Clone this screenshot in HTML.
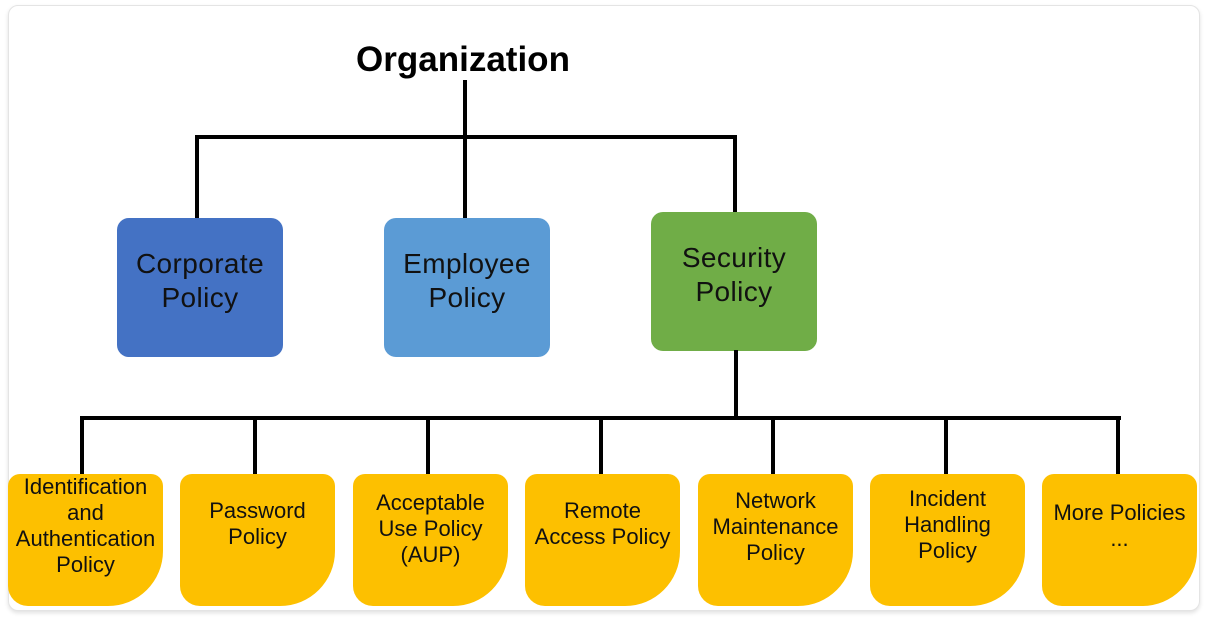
<!DOCTYPE html>
<html><head><style>
body{margin:0;width:1209px;height:617px;background:#fff;position:relative;font-family:"Liberation Sans",sans-serif;overflow:hidden}
.card{position:absolute;left:8px;top:5px;width:1190px;height:604px;border:1px solid #e4e4e4;border-radius:10px;box-shadow:0 2px 4px rgba(0,0,0,.12);background:#fff}
.l{position:absolute;background:#000}
.b{position:absolute;width:166px;height:139px;border-radius:12px;display:flex;align-items:center;justify-content:center;text-align:center;font-size:28px;letter-spacing:0.4px;line-height:34px;color:#111;padding-bottom:14px;box-sizing:border-box}
.y{position:absolute;top:474px;width:155px;height:132px;background:#fdc000;border-radius:12px 12px 55px 20px;display:flex;justify-content:center;text-align:center;font-size:22px;line-height:26px;color:#111;box-sizing:border-box;white-space:nowrap}
</style></head><body>
<div class="card"></div>
<div style="position:absolute;left:280px;width:366px;top:40px;text-align:center;font-weight:bold;font-size:35px">Organization</div>
<div class="l" style="left:463px;top:80px;width:4px;height:59px"></div>
<div class="l" style="left:195px;top:135px;width:542px;height:4px"></div>
<div class="l" style="left:195px;top:135px;width:4px;height:84px"></div>
<div class="l" style="left:463px;top:135px;width:4px;height:84px"></div>
<div class="l" style="left:733px;top:135px;width:4px;height:78px"></div>
<div class="b" style="left:117px;top:218px;background:#4472c4">Corporate<br>Policy</div>
<div class="b" style="left:384px;top:218px;background:#5b9bd5">Employee<br>Policy</div>
<div class="b" style="left:651px;top:212px;background:#70ad47">Security<br>Policy</div>
<div class="l" style="left:734px;top:350px;width:4px;height:70px"></div>
<div class="l" style="left:80px;top:416px;width:1041px;height:4px"></div>
<div class="l" style="left:80px;top:416px;width:4px;height:59px"></div>
<div class="l" style="left:253px;top:416px;width:4px;height:59px"></div>
<div class="l" style="left:426px;top:416px;width:4px;height:59px"></div>
<div class="l" style="left:599px;top:416px;width:4px;height:59px"></div>
<div class="l" style="left:771px;top:416px;width:4px;height:59px"></div>
<div class="l" style="left:944px;top:416px;width:4px;height:59px"></div>
<div class="l" style="left:1116px;top:416px;width:4px;height:59px"></div>
<div class="y" style="left:8px;padding-top:0">Identification<br>and<br>Authentication<br>Policy</div>
<div class="y" style="left:180px;padding-top:24px">Password<br>Policy</div>
<div class="y" style="left:353px;padding-top:16px">Acceptable<br>Use Policy<br>(AUP)</div>
<div class="y" style="left:525px;padding-top:24px">Remote<br>Access Policy</div>
<div class="y" style="left:698px;padding-top:14px">Network<br>Maintenance<br>Policy</div>
<div class="y" style="left:870px;padding-top:12px">Incident<br>Handling<br>Policy</div>
<div class="y" style="left:1042px;padding-top:26px">More Policies<br>...</div>
</body></html>
